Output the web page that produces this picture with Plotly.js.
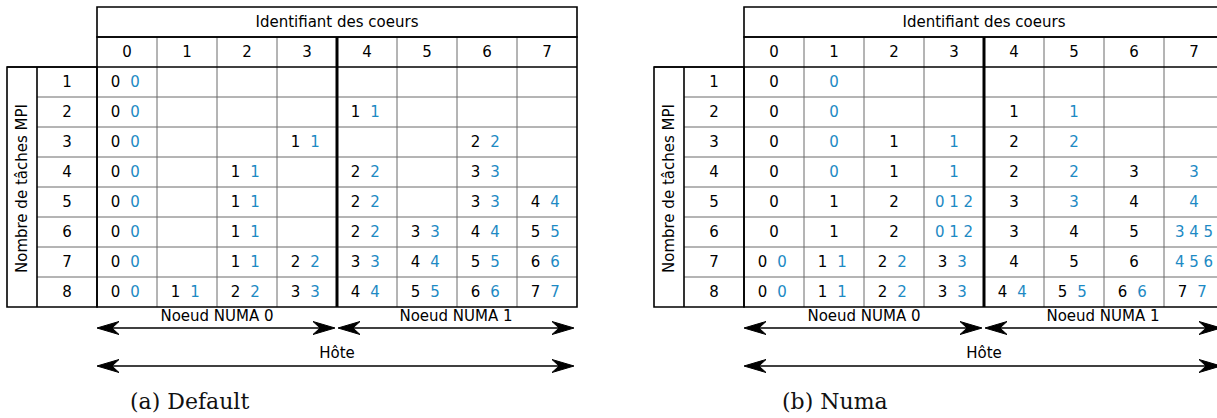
<!DOCTYPE html>
<html>
<head>
<meta charset="utf-8">
<script src="https://cdn.plot.ly/plotly-3.0.1.min.js"></script>
<style>html,body{margin:0;padding:0;background:#fff;}#chart{width:1217px;height:418px;}</style>
</head>
<body>
<div id="chart"></div>
<script>
// ---------- DATA ----------
const headerTitle = 'Identifiant des coeurs';
const rowTitle = 'Nombre de tâches MPI';
const coreLabels = ['0', '1', '2', '3', '4', '5', '6', '7'];
const taskCounts = ['1', '2', '3', '4', '5', '6', '7', '8'];
const numaLabels = ['Noeud NUMA 0', 'Noeud NUMA 1'];
const hostLabel = 'Hôte';
const captions = ['(a) Default', '(b) Numa'];

// black = MPI rank placed on core, blue = thread / rank id shown in blue
const defaultBlack = [
  ['0', '', '', '', '', '', '', ''],
  ['0', '', '', '', '1', '', '', ''],
  ['0', '', '', '1', '', '', '2', ''],
  ['0', '', '1', '', '2', '', '3', ''],
  ['0', '', '1', '', '2', '', '3', '4'],
  ['0', '', '1', '', '2', '3', '4', '5'],
  ['0', '', '1', '2', '3', '4', '5', '6'],
  ['0', '1', '2', '3', '4', '5', '6', '7']
];
const defaultBlue = [
  ['0', '', '', '', '', '', '', ''],
  ['0', '', '', '', '1', '', '', ''],
  ['0', '', '', '1', '', '', '2', ''],
  ['0', '', '1', '', '2', '', '3', ''],
  ['0', '', '1', '', '2', '', '3', '4'],
  ['0', '', '1', '', '2', '3', '4', '5'],
  ['0', '', '1', '2', '3', '4', '5', '6'],
  ['0', '1', '2', '3', '4', '5', '6', '7']
];
const numaBlack = [
  ['0', '', '', '', '', '', '', ''],
  ['0', '', '', '', '1', '', '', ''],
  ['0', '', '1', '', '2', '', '', ''],
  ['0', '', '1', '', '2', '', '3', ''],
  ['0', '1', '2', '', '3', '', '4', ''],
  ['0', '1', '2', '', '3', '4', '5', ''],
  ['0', '1', '2', '3', '4', '5', '6', ''],
  ['0', '1', '2', '3', '4', '5', '6', '7']
];
const numaBlue = [
  ['', '0', '', '', '', '', '', ''],
  ['', '0', '', '', '', '1', '', ''],
  ['', '0', '', '1', '', '2', '', ''],
  ['', '0', '', '1', '', '2', '', '3'],
  ['', '', '', '0 1 2', '', '3', '', '4'],
  ['', '', '', '0 1 2', '', '', '', '3 4 5'],
  ['0', '1', '2', '3', '', '', '', '4 5 6'],
  ['0', '1', '2', '3', '4', '5', '6', '7']
];

// ---------- LAYOUT GEOMETRY ----------
const W = 1217, H = 418;
const panels = [
  {x0: 97, black: defaultBlack, blue: defaultBlue, caption: captions[0], capX: 189},
  {x0: 744, black: numaBlack, blue: numaBlue, caption: captions[1], capX: 835}
];
const colW = 60, rowH = 30;
const yTitleTop = 7, yHeadTop = 37, yBodyTop = 67;
const nCols = coreLabels.length, nRows = taskCounts.length;
const yBodyBot = yBodyTop + nRows * rowH;
const dy = 1.5;
const BLUE = '#1d8ac4', GRID = '#6a6a6a', BLACK = '#000000';
const FONT = 'DejaVu Sans, sans-serif';

const shapes = [];
const annotations = [];
const traces = [];

function line(x0, y0, x1, y1, color, width) {
  shapes.push({type: 'line', xref: 'x', yref: 'y', x0, y0, x1, y1, line: {color, width}});
}
function rect(x0, y0, x1, y1, color, width) {
  shapes.push({type: 'rect', xref: 'x', yref: 'y', x0, y0, x1, y1, line: {color, width}, fillcolor: 'rgba(0,0,0,0)'});
}
function arrowHead(tipX, y, dir) {
  const L = 22, hw = 6.5, notch = 15;
  const bx = tipX - dir * L, nx = tipX - dir * notch;
  shapes.push({type: 'path', xref: 'x', yref: 'y',
    path: `M ${tipX} ${y} L ${bx} ${y - hw} L ${nx} ${y} L ${bx} ${y + hw} Z`,
    fillcolor: BLACK, line: {color: BLACK, width: 1}});
}
function arrow(xa, xb, y) {
  line(xa + 8, y, xb - 8, y, BLACK, 1.6);
  arrowHead(xa, y, -1);
  arrowHead(xb, y, 1);
}

const textX = [], textY = [], textS = [];
const blueX = [], blueY = [], blueS = [];

panels.forEach(p => {
  const x0 = p.x0, x1 = x0 + nCols * colW;
  const xl0 = x0 - 90, xl1 = x0 - 60;

  for (let c = 1; c < nCols; c++) {
    const x = x0 + c * colW;
    if (c === nCols / 2) continue;
    line(x, yHeadTop, x, yBodyBot, GRID, 1);
  }
  for (let r = 1; r < nRows; r++) {
    const y = yBodyTop + r * rowH;
    line(xl1, y, x1, y, GRID, 1);
  }
  line(x0 + (nCols / 2) * colW, yHeadTop, x0 + (nCols / 2) * colW, yBodyBot, BLACK, 3);
  rect(x0, yTitleTop, x1, yHeadTop, BLACK, 1.6);
  rect(x0, yHeadTop, x1, yBodyBot, BLACK, 1.6);
  line(xl0, yBodyTop, x1, yBodyTop, BLACK, 1.6);
  rect(xl0, yBodyTop, x0, yBodyBot, BLACK, 1.6);
  line(xl1, yBodyTop, xl1, yBodyBot, BLACK, 1.6);

  textX.push(x0 + nCols * colW / 2); textY.push((yTitleTop + yHeadTop) / 2 + dy); textS.push(headerTitle);
  coreLabels.forEach((lab, c) => { textX.push(x0 + c * colW + colW / 2); textY.push((yHeadTop + yBodyTop) / 2 + dy); textS.push(lab); });
  taskCounts.forEach((lab, r) => { textX.push((xl1 + x0) / 2); textY.push(yBodyTop + r * rowH + rowH / 2 + dy); textS.push(lab); });

  annotations.push({xref: 'x', yref: 'y', x: (xl0 + xl1) / 2, y: (yBodyTop + yBodyBot) / 2 + 2,
    text: rowTitle, textangle: -90, showarrow: false, font: {family: FONT, size: 15, color: BLACK}});

  for (let r = 0; r < nRows; r++) {
    for (let c = 0; c < nCols; c++) {
      const cx = x0 + c * colW + colW / 2, cy = yBodyTop + r * rowH + rowH / 2 + dy;
      const b = p.black[r][c], u = p.blue[r][c];
      if (b && u) {
        textX.push(cx - 11.5); textY.push(cy); textS.push(b);
        blueX.push(cx + 8); blueY.push(cy); blueS.push(u);
      } else if (b) {
        textX.push(cx); textY.push(cy); textS.push(b);
      } else if (u) {
        blueX.push(cx); blueY.push(cy); blueS.push(u);
      }
    }
  }

  const xm = x0 + (nCols / 2) * colW;
  arrow(x0, xm - 2, 328);
  arrow(xm + 1, x1 - 3, 328);
  arrow(x0, x1 - 3, 366);
  textX.push((x0 + xm) / 2); textY.push(317); textS.push(numaLabels[0]);
  textX.push((xm + x1) / 2 - 1); textY.push(317); textS.push(numaLabels[1]);
  textX.push(xm); textY.push(354); textS.push(hostLabel);

  annotations.push({xref: 'x', yref: 'y', x: p.capX, y: 401, text: p.caption, showarrow: false,
    font: {family: 'DejaVu Serif, serif', size: 22, color: '#111'}});
});

traces.push({type: 'scatter', mode: 'text', x: textX, y: textY, text: textS,
  textposition: 'middle center', textfont: {family: FONT, size: 15, color: BLACK},
  hoverinfo: 'skip', showlegend: false, cliponaxis: true});
traces.push({type: 'scatter', mode: 'text', x: blueX, y: blueY, text: blueS,
  textposition: 'middle center', textfont: {family: FONT, size: 15, color: BLUE},
  hoverinfo: 'skip', showlegend: false, cliponaxis: true});

const layout = {
  width: W, height: H,
  margin: {l: 0, r: 0, t: 0, b: 0, pad: 0},
  paper_bgcolor: '#ffffff', plot_bgcolor: '#ffffff',
  xaxis: {range: [0, W], visible: false, fixedrange: true},
  yaxis: {range: [H, 0], visible: false, fixedrange: true},
  showlegend: false,
  shapes, annotations
};
Plotly.newPlot('chart', traces, layout, {displayModeBar: false, staticPlot: true});
</script>
</body>
</html>
